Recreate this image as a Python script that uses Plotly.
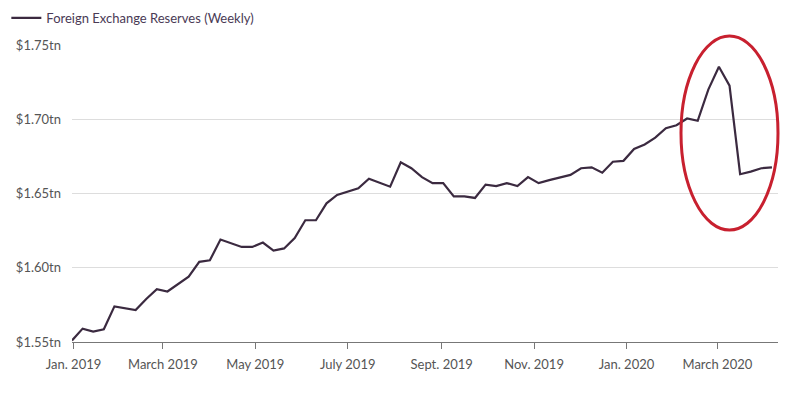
import pandas as pd
import plotly.graph_objects as go

start_date = "2018-12-31"
reserves_tn = [
    1.551, 1.559, 1.557, 1.5586, 1.574, 1.5727, 1.5715, 1.579, 1.5855, 1.584,
    1.589, 1.594, 1.604, 1.605, 1.619, 1.6165, 1.614, 1.614, 1.617, 1.6115,
    1.613, 1.620, 1.632, 1.632, 1.6434, 1.649, 1.651, 1.6535, 1.660, 1.6573,
    1.6546, 1.671, 1.667, 1.661, 1.657, 1.657, 1.648, 1.648, 1.647, 1.656,
    1.655, 1.657, 1.655, 1.661, 1.657, 1.659, 1.661, 1.6625, 1.667, 1.6676,
    1.664, 1.6714, 1.672, 1.680, 1.683, 1.6876, 1.694, 1.696, 1.7005, 1.699,
    1.720, 1.7354, 1.7226, 1.663, 1.6647, 1.667, 1.6676,
]
dates = pd.date_range(start=start_date, periods=len(reserves_tn), freq="7D")

x_tick_vals = ["2019-01-01", "2019-03-01", "2019-05-01", "2019-07-01",
               "2019-09-01", "2019-11-01", "2020-01-01", "2020-03-01"]
x_tick_text = ["Jan. 2019", "March 2019", "May 2019", "July 2019",
               "Sept. 2019", "Nov. 2019", "Jan. 2020", "March 2020"]
y_tick_vals = [1.55, 1.60, 1.65, 1.70, 1.75]
y_tick_text = ["$1.55tn", "$1.60tn", "$1.65tn", "$1.70tn", "$1.75tn"]
series_name = "Foreign Exchange Reserves (Weekly)"

fig = go.Figure()
fig.add_trace(go.Scatter(
    x=dates, y=reserves_tn, mode="lines", name=series_name,
    line=dict(color="#3b2a40", width=2.2),
))

fig.add_shape(type="circle", xref="paper", yref="paper",
              x0=0.8626, x1=1.0, y0=0.377, y1=1.03,
              line=dict(color="#c8202f", width=3))

fig.update_layout(
    width=800, height=394,
    margin=dict(l=72, r=22, t=45, b=52, autoexpand=False),
    paper_bgcolor="white", plot_bgcolor="white",
    font=dict(family="Lato, 'Open Sans', sans-serif", size=13, color="#555555"),
    showlegend=True,
    legend=dict(x=-0.093, y=1.142,
                xanchor="left", yanchor="top", orientation="h",
                font=dict(size=13, color="#4a3a55"), bgcolor="rgba(0,0,0,0)"),
    xaxis=dict(
        type="date", range=["2018-12-31", "2020-04-10"],
        tickvals=x_tick_vals, ticktext=x_tick_text,
        showgrid=False, showline=True, linecolor="#777777", linewidth=1,
        ticks="outside", ticklen=6, tickcolor="#777777",
        ticklabelstandoff=4, zeroline=False, automargin=False,
    ),
    yaxis=dict(
        range=[1.55, 1.75], tickvals=y_tick_vals, ticktext=y_tick_text,
        showgrid=True, gridcolor="#dddddd", gridwidth=1,
        showline=False, zeroline=False, ticks="", ticklabelstandoff=10,
        automargin=False,
    ),
)

fig.write_html("out.html", config={"displayModeBar": False},
               post_script="document.body.style.margin='0';")
